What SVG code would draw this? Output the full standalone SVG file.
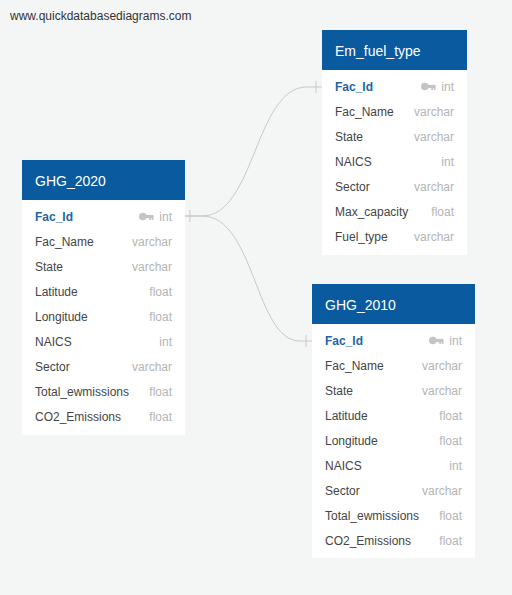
<svg xmlns="http://www.w3.org/2000/svg" width="512" height="595" viewBox="0 0 512 595">
<defs>
<style>
.bg{fill:#f4f6f6}
.card{fill:#ffffff}
.hdr{fill:#0a5aa0}
.title{font-family:"Liberation Sans",Arial,sans-serif;font-size:14px;fill:#ffffff}
.nm{font-family:"Liberation Sans",Arial,sans-serif;font-size:12px;fill:#444444}
.pk{font-family:"Liberation Sans",Arial,sans-serif;font-size:12px;fill:#1f64a6;font-weight:bold}
.ty{font-family:"Liberation Sans",Arial,sans-serif;font-size:12px;fill:#b4b4b4;text-anchor:end}
.wm{font-family:"Liberation Sans",Arial,sans-serif;font-size:12px;fill:#333333}
.conn{fill:none;stroke:#c8c8c8;stroke-width:1}
.key{fill:#c4c4c4}
</style>
<g id="keyicon">
<circle cx="3.8" cy="0" r="3.8" class="key"/>
<rect x="5" y="-1.6" width="9.5" height="3.2" class="key"/>
<rect x="10.2" y="0" width="1.8" height="3.4" class="key"/>
<rect x="12.7" y="0" width="1.8" height="3.4" class="key"/>
</g>
</defs>
<rect class="bg" x="0" y="0" width="512" height="595"/>
<text class="wm" x="10" y="20">www.quickdatabasediagrams.com</text>

<g id="connectors">
<path class="conn" d="M185,216 L202,216 C255,216 255,87 307,87 L322,87"/>
<path class="conn" d="M185,216 L202,216 C255,216 255,341 300,341 L312,341"/>
<line class="conn" x1="190" y1="210" x2="190" y2="222"/>
<line class="conn" x1="316" y1="81" x2="316" y2="93"/>
<line class="conn" x1="306" y1="335" x2="306" y2="347"/>
</g>

<g id="GHG_2020">
<rect class="card" x="22" y="160" width="163" height="275"/>
<rect class="hdr" x="22" y="160" width="163" height="40"/>
<text class="title" x="35" y="186">GHG_2020</text>
<text class="pk" x="35" y="221">Fac_Id</text>
<use href="#keyicon" x="139" y="216.5"/>
<text class="ty" x="172" y="221">int</text>
<text class="nm" x="35" y="246">Fac_Name</text><text class="ty" x="172" y="246">varchar</text>
<text class="nm" x="35" y="271">State</text><text class="ty" x="172" y="271">varchar</text>
<text class="nm" x="35" y="296">Latitude</text><text class="ty" x="172" y="296">float</text>
<text class="nm" x="35" y="321">Longitude</text><text class="ty" x="172" y="321">float</text>
<text class="nm" x="35" y="346">NAICS</text><text class="ty" x="172" y="346">int</text>
<text class="nm" x="35" y="371">Sector</text><text class="ty" x="172" y="371">varchar</text>
<text class="nm" x="35" y="396">Total_ewmissions</text><text class="ty" x="172" y="396">float</text>
<text class="nm" x="35" y="421">CO2_Emissions</text><text class="ty" x="172" y="421">float</text>
</g>

<g id="Em_fuel_type">
<rect class="card" x="322" y="30" width="145" height="225"/>
<rect class="hdr" x="322" y="30" width="145" height="40"/>
<text class="title" x="335" y="56">Em_fuel_type</text>
<text class="pk" x="335" y="91">Fac_Id</text>
<use href="#keyicon" x="421" y="86.5"/>
<text class="ty" x="454" y="91">int</text>
<text class="nm" x="335" y="116">Fac_Name</text><text class="ty" x="454" y="116">varchar</text>
<text class="nm" x="335" y="141">State</text><text class="ty" x="454" y="141">varchar</text>
<text class="nm" x="335" y="166">NAICS</text><text class="ty" x="454" y="166">int</text>
<text class="nm" x="335" y="191">Sector</text><text class="ty" x="454" y="191">varchar</text>
<text class="nm" x="335" y="216">Max_capacity</text><text class="ty" x="454" y="216">float</text>
<text class="nm" x="335" y="241">Fuel_type</text><text class="ty" x="454" y="241">varchar</text>
</g>

<g id="GHG_2010">
<rect class="card" x="312" y="284" width="163" height="274"/>
<rect class="hdr" x="312" y="284" width="163" height="40"/>
<text class="title" x="325" y="310">GHG_2010</text>
<text class="pk" x="325" y="345">Fac_Id</text>
<use href="#keyicon" x="429" y="340.5"/>
<text class="ty" x="462" y="345">int</text>
<text class="nm" x="325" y="370">Fac_Name</text><text class="ty" x="462" y="370">varchar</text>
<text class="nm" x="325" y="395">State</text><text class="ty" x="462" y="395">varchar</text>
<text class="nm" x="325" y="420">Latitude</text><text class="ty" x="462" y="420">float</text>
<text class="nm" x="325" y="445">Longitude</text><text class="ty" x="462" y="445">float</text>
<text class="nm" x="325" y="470">NAICS</text><text class="ty" x="462" y="470">int</text>
<text class="nm" x="325" y="495">Sector</text><text class="ty" x="462" y="495">varchar</text>
<text class="nm" x="325" y="520">Total_ewmissions</text><text class="ty" x="462" y="520">float</text>
<text class="nm" x="325" y="545">CO2_Emissions</text><text class="ty" x="462" y="545">float</text>
</g>
</svg>
